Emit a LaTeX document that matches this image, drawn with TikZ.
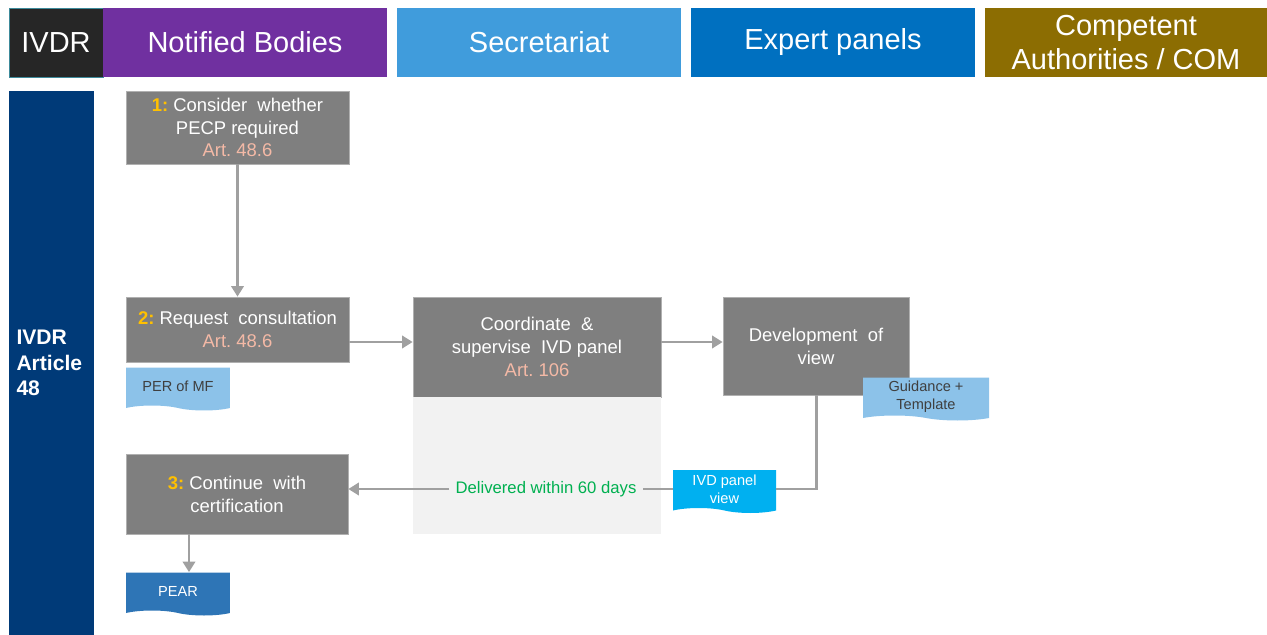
\documentclass[tikz,border=0pt]{standalone}
\usepackage{fontspec}
\setmainfont{Liberation Sans}
\usepackage{xcolor}
\usepackage{tikz}
\usetikzlibrary{shapes,arrows,positioning,calc,arrows.meta}
\frenchspacing

\definecolor{ivdrblack}{HTML}{262626}
\definecolor{headedge}{HTML}{3D8A9A}
\definecolor{nbpurple}{HTML}{7030A0}
\definecolor{secblue}{HTML}{409CDC}
\definecolor{expblue}{HTML}{0070C0}
\definecolor{caolive}{HTML}{8C6D02}
\definecolor{colnavy}{HTML}{003A78}
\definecolor{boxgray}{HTML}{7F7F7F}
\definecolor{boxedge}{HTML}{B0B0B0}
\definecolor{stepgold}{HTML}{FFC000}
\definecolor{artpink}{HTML}{F4B9A6}
\definecolor{regiongray}{HTML}{F2F2F2}
\definecolor{arrowgray}{HTML}{A0A0A0}
\definecolor{docblue}{HTML}{8CC2E9}
\definecolor{doccyan}{HTML}{00B0F0}
\definecolor{docdark}{HTML}{2E75B6}
\definecolor{doctext}{HTML}{3F3F3F}
\definecolor{delgreen}{HTML}{00B050}

\newcommand{\stepno}[1]{\textcolor{stepgold}{\bfseries #1:}}
\newcommand{\artref}[1]{\textcolor{artpink}{Art. #1}}

\tikzset{
    lanehead/.style={minimum height=1.38cm, inner sep=0pt, text=white, align=center,
        font=\fontsize{16.5}{19.8}\selectfont},
    stepbox/.style={fill=boxgray, draw=boxedge, line width=0.4pt, inner sep=0pt,
        text=white, align=center, font=\fontsize{10.5}{13}\selectfont},
    docbox/.style={tape, tape bend top=none, tape bend bottom=out and in,
        tape bend height=0.1cm, inner sep=0pt, minimum height=0.86cm, align=center,
        font=\fontsize{8.3}{10}\selectfont},
    flow/.style={draw=arrowgray, line width=1.7pt, -{Triangle[length=6pt,width=7pt]}},
    flowline/.style={draw=arrowgray, line width=1.7pt}
}

\begin{document}
\begin{tikzpicture}[x=0.02cm, y=-0.02cm]
    \useasboundingbox (0,0) rectangle (1267,635);

    % Lane headers
    \node[lanehead, fill=ivdrblack, draw=headedge, line width=0.4pt, minimum width=1.88cm] (hivdr) at (56,42.5) {IVDR};
    \node[lanehead, fill=nbpurple, minimum width=5.68cm] (hnb) at (245,42.5) {Notified Bodies};
    \node[lanehead, fill=secblue, minimum width=5.68cm] (hsec) at (539,42.5) {Secretariat};
    \node[lanehead, fill=expblue, minimum width=5.68cm] (hexp) at (833,42.5) {Expert panels};
    \node[lanehead, fill=caolive, minimum width=5.64cm] (hca) at (1126,42.5) {Competent\\Authorities / COM};

    % Article column
    \node[fill=colnavy, minimum width=1.7cm, minimum height=10.88cm, inner sep=0pt,
        text width=1.4cm, align=left, text=white, font=\bfseries\fontsize{12}{14.5}\selectfont]
        (art) at (51.5,363) {IVDR\\Article\\48};

    % Steps
    \node[stepbox, minimum width=4.46cm, minimum height=1.46cm] (consider) at (237.5,127.5)
        {\stepno{1} Consider\ \ whether\\PECP required\\\artref{48.6}};
    \node[stepbox, minimum width=4.46cm, minimum height=1.30cm] (request) at (237.5,329.5)
        {\stepno{2} Request\ \ consultation\\\artref{48.6}};
    \node[stepbox, minimum width=4.96cm, minimum height=2.0cm] (coord) at (537,347)
        {Coordinate\ \ \&\\supervise\ \ IVD panel\\\artref{106}};
    \node[stepbox, minimum width=3.72cm, minimum height=1.96cm] (devview) at (816,346)
        {Development\ \ of\\view};
    \node[stepbox, minimum width=4.44cm, minimum height=1.6cm] (continue) at (237,494)
        {\stepno{3} Continue\ \ with\\certification};

    % Time window
    \fill[regiongray] (coord.south west) rectangle (coord.south east |- continue.south);

    % Documents
    \node[docbox, fill=docblue, text=doctext, minimum width=2.08cm] (permf) at (178,386.5) {PER of MF};
    \node[docbox, fill=docblue, text=doctext, minimum width=2.52cm] (guide) at (926,396.5) {Guidance +\\Template};
    \node[docbox, fill=doccyan, text=white, minimum width=2.06cm] (ivdview) at (724.5,489) {IVD panel\\view};
    \node[docbox, fill=docdark, text=white, minimum width=2.08cm] (pear) at (178,591.5) {PEAR};

    \node[text=delgreen, font=\fontsize{9.5}{11}\selectfont, inner xsep=0.12cm] (delivered) at (546,489)
        {Delivered within 60 days};

    % Connectors
    \draw[flow] (consider) -- (request);
    \draw[flow] ([yshift=-0.25cm]request.east) -- ([yshift=-0.25cm]request.east -| coord.west);
    \draw[flow] ([yshift=0.1cm]coord.east) -- ([yshift=0.1cm]coord.east -| devview.west);
    \draw[flowline] (devview.south) |- (ivdview.east);
    \draw[flowline] (ivdview.west) -- (delivered.east);
    \draw[flow] (delivered.west) -- (delivered.west -| continue.east);
    \draw[flow] ([xshift=0.22cm]pear.north |- continue.south) -- ([xshift=0.22cm]pear.north);
\end{tikzpicture}
\end{document}
